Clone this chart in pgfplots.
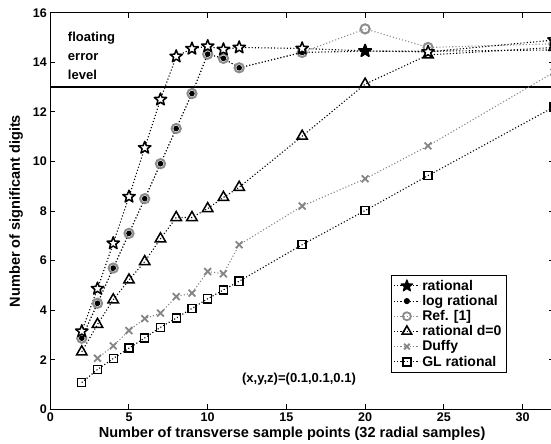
\documentclass[border=0pt]{standalone}
\usepackage{pgfplots}
\pgfplotsset{compat=1.18}
\usepackage{fontspec}
\setmainfont{Liberation Sans}
\usetikzlibrary{plotmarks}
\definecolor{refgray}{gray}{0.55}
\definecolor{duffygray}{gray}{0.52}
\pgfdeclareplotmark{fivestar}{%
 \pgfpathmoveto{\pgfpointpolar{90}{\pgfplotmarksize}}%
 \pgfpathlineto{\pgfpointpolar{126}{0.42\pgfplotmarksize}}%
 \pgfpathlineto{\pgfpointpolar{162}{\pgfplotmarksize}}%
 \pgfpathlineto{\pgfpointpolar{198}{0.42\pgfplotmarksize}}%
 \pgfpathlineto{\pgfpointpolar{234}{\pgfplotmarksize}}%
 \pgfpathlineto{\pgfpointpolar{270}{0.42\pgfplotmarksize}}%
 \pgfpathlineto{\pgfpointpolar{306}{\pgfplotmarksize}}%
 \pgfpathlineto{\pgfpointpolar{342}{0.42\pgfplotmarksize}}%
 \pgfpathlineto{\pgfpointpolar{18}{\pgfplotmarksize}}%
 \pgfpathlineto{\pgfpointpolar{54}{0.42\pgfplotmarksize}}%
 \pgfpathclose
 \pgfusepathqfillstroke}
\tikzset{sdot/.style={dash pattern=on 1.1pt off 2.1pt, line width=1.1pt}}
\begin{document}
\begin{tikzpicture}
\begin{axis}[
  scale only axis,
  width=503pt, height=396pt,
  xmin=0, xmax=32, ymin=0, ymax=16,
  xtick={0,5,10,15,20,25,30},
  ytick={0,2,4,6,8,10,12,14,16},
  tick align=inside,
  major tick length=5pt,
  axis line style={line width=1.3pt},
  every tick/.style={line width=1pt, black},
  /pgf/number format/assume math mode=true,
  tick label style={font=\bfseries\fontsize{12.5}{13}\selectfont},
  xlabel={Number of transverse sample points (32 radial samples)},
  ylabel={Number of significant digits},
  label style={font=\bfseries\fontsize{14.5}{15}\selectfont},
  xlabel style={yshift=2pt, xshift=-10pt},
  ylabel style={yshift=3pt},
  legend style={at={(0.905,0.338)}, anchor=north east, draw=black, line width=0.6pt,
    font=\bfseries\fontsize{14}{15}\selectfont, row sep=-0.5pt, inner sep=2.5pt},
  legend cell align=left,
  legend image code/.code={\draw[mark repeat=2,mark phase=2,#1] plot coordinates {(0cm,0cm) (0.45cm,0cm) (0.9cm,0cm)};},
]
% floating error level line
\addplot[black, line width=1.4pt, forget plot] coordinates {(0,13) (32,13)};

% Ref [1]
\addplot[refgray, sdot, forget plot,
  mark=o, mark size=4.6pt, mark options={solid, line width=2pt, draw=refgray}]
  coordinates {(2,2.87) (3,4.28) (4,5.7) (5,7.1) (6,8.5) (7,9.91) (8,11.33) (9,12.74)
   (10,14.33) (11,14.16) (12,13.78) (16,14.4) (20,15.35) (24,14.6) (32,14.75)};

% GL rational
\addplot[black, sdot, forget plot,
  mark=square, mark size=4pt, mark options={solid, line width=1.4pt, fill=white}]
  coordinates {(2,1.08) (3,1.61) (4,2.05) (5,2.47) (6,2.88) (7,3.31) (8,3.68) (9,4.07)
   (10,4.46) (11,4.82) (12,5.17) (16,6.64) (20,8.02) (24,9.43) (32,12.2)};

% Duffy
\addplot[duffygray, sdot, forget plot,
  mark=x, mark size=4.8pt, mark options={solid, line width=1.8pt, draw=duffygray}]
  coordinates {(3,2.06) (4,2.56) (5,3.18) (6,3.66) (7,3.88) (8,4.55) (9,4.69)
   (10,5.56) (11,5.47) (12,6.64) (16,8.2) (20,9.3) (24,10.63) (32,13.6)};

% rational d=0
\addplot[black, sdot, forget plot,
  mark=triangle, mark size=6pt, mark options={solid, line width=1.5pt, fill=white}]
  coordinates {(2,2.32) (3,3.43) (4,4.42) (5,5.22) (6,5.96) (7,6.88) (8,7.74) (9,7.74)
   (10,8.1) (11,8.55) (12,8.96) (16,11.02) (20,13.12) (24,14.3) (32,14.6)};

% log rational
\addplot[black, sdot, forget plot,
  mark=*, mark size=2.2pt, mark options={solid}]
  coordinates {(2,2.87) (3,4.28) (4,5.7) (5,7.1) (6,8.5) (7,9.91) (8,11.33) (9,12.74)
   (10,14.33) (11,14.16) (12,13.78) (16,14.4) (20,14.45) (24,14.45) (32,14.5)};

% rational
\addplot[black, sdot, forget plot,
  mark=fivestar, mark size=6.5pt, mark options={solid, line width=1.5pt, fill=white, line join=round}]
  coordinates {(2,3.15) (3,4.87) (4,6.7) (5,8.58) (6,10.55) (7,12.5) (8,14.24) (9,14.55)
   (10,14.65) (11,14.52) (12,14.6) (16,14.56) (20,14.46) (24,14.42) (32,14.9)};
\addplot[only marks, black, forget plot,
  mark=fivestar, mark size=6.5pt, mark options={solid, line width=1.3pt, fill=black, line join=round}]
  coordinates {(20,14.46)};

\node[anchor=west, align=left, font=\bfseries\fontsize{13}{19}\selectfont]
  at (axis cs:0.9,14.25) {floating\\error\\level};
\node[font=\bfseries\fontsize{13}{14}\selectfont] at (axis cs:15.8,1.2) {(x,y,z)=(0.1,0.1,0.1)};

\addlegendimage{black, sdot, mark=fivestar, mark size=6pt, mark options={solid, line width=1.2pt, fill=black, line join=round}}
\addlegendentry{rational}
\addlegendimage{black, sdot, mark=*, mark size=2.5pt, mark options={solid}}
\addlegendentry{log rational}
\addlegendimage{refgray, sdot, mark=o, mark size=4pt, mark options={solid, line width=1.8pt, draw=refgray}}
\addlegendentry{Ref. [1]}
\addlegendimage{black, sdot, mark=triangle, mark size=5.5pt, mark options={solid, line width=1.6pt, fill=white}}
\addlegendentry{rational d=0}
\addlegendimage{duffygray, sdot, mark=x, mark size=4pt, mark options={solid, line width=1.8pt, draw=duffygray}}
\addlegendentry{Duffy}
\addlegendimage{black, sdot, mark=square, mark size=4pt, mark options={solid, line width=1.5pt, fill=white}}
\addlegendentry{GL rational}
\end{axis}
\coordinate (R) at ([xshift=-3pt]current axis.north east);
\coordinate (T) at ([yshift=5pt]current axis.outer north east);
\coordinate (L) at ([xshift=-6pt]current axis.outer south west);
\pgfresetboundingbox
\path[use as bounding box] (L) rectangle (R |- T);
\end{tikzpicture}
\end{document}
